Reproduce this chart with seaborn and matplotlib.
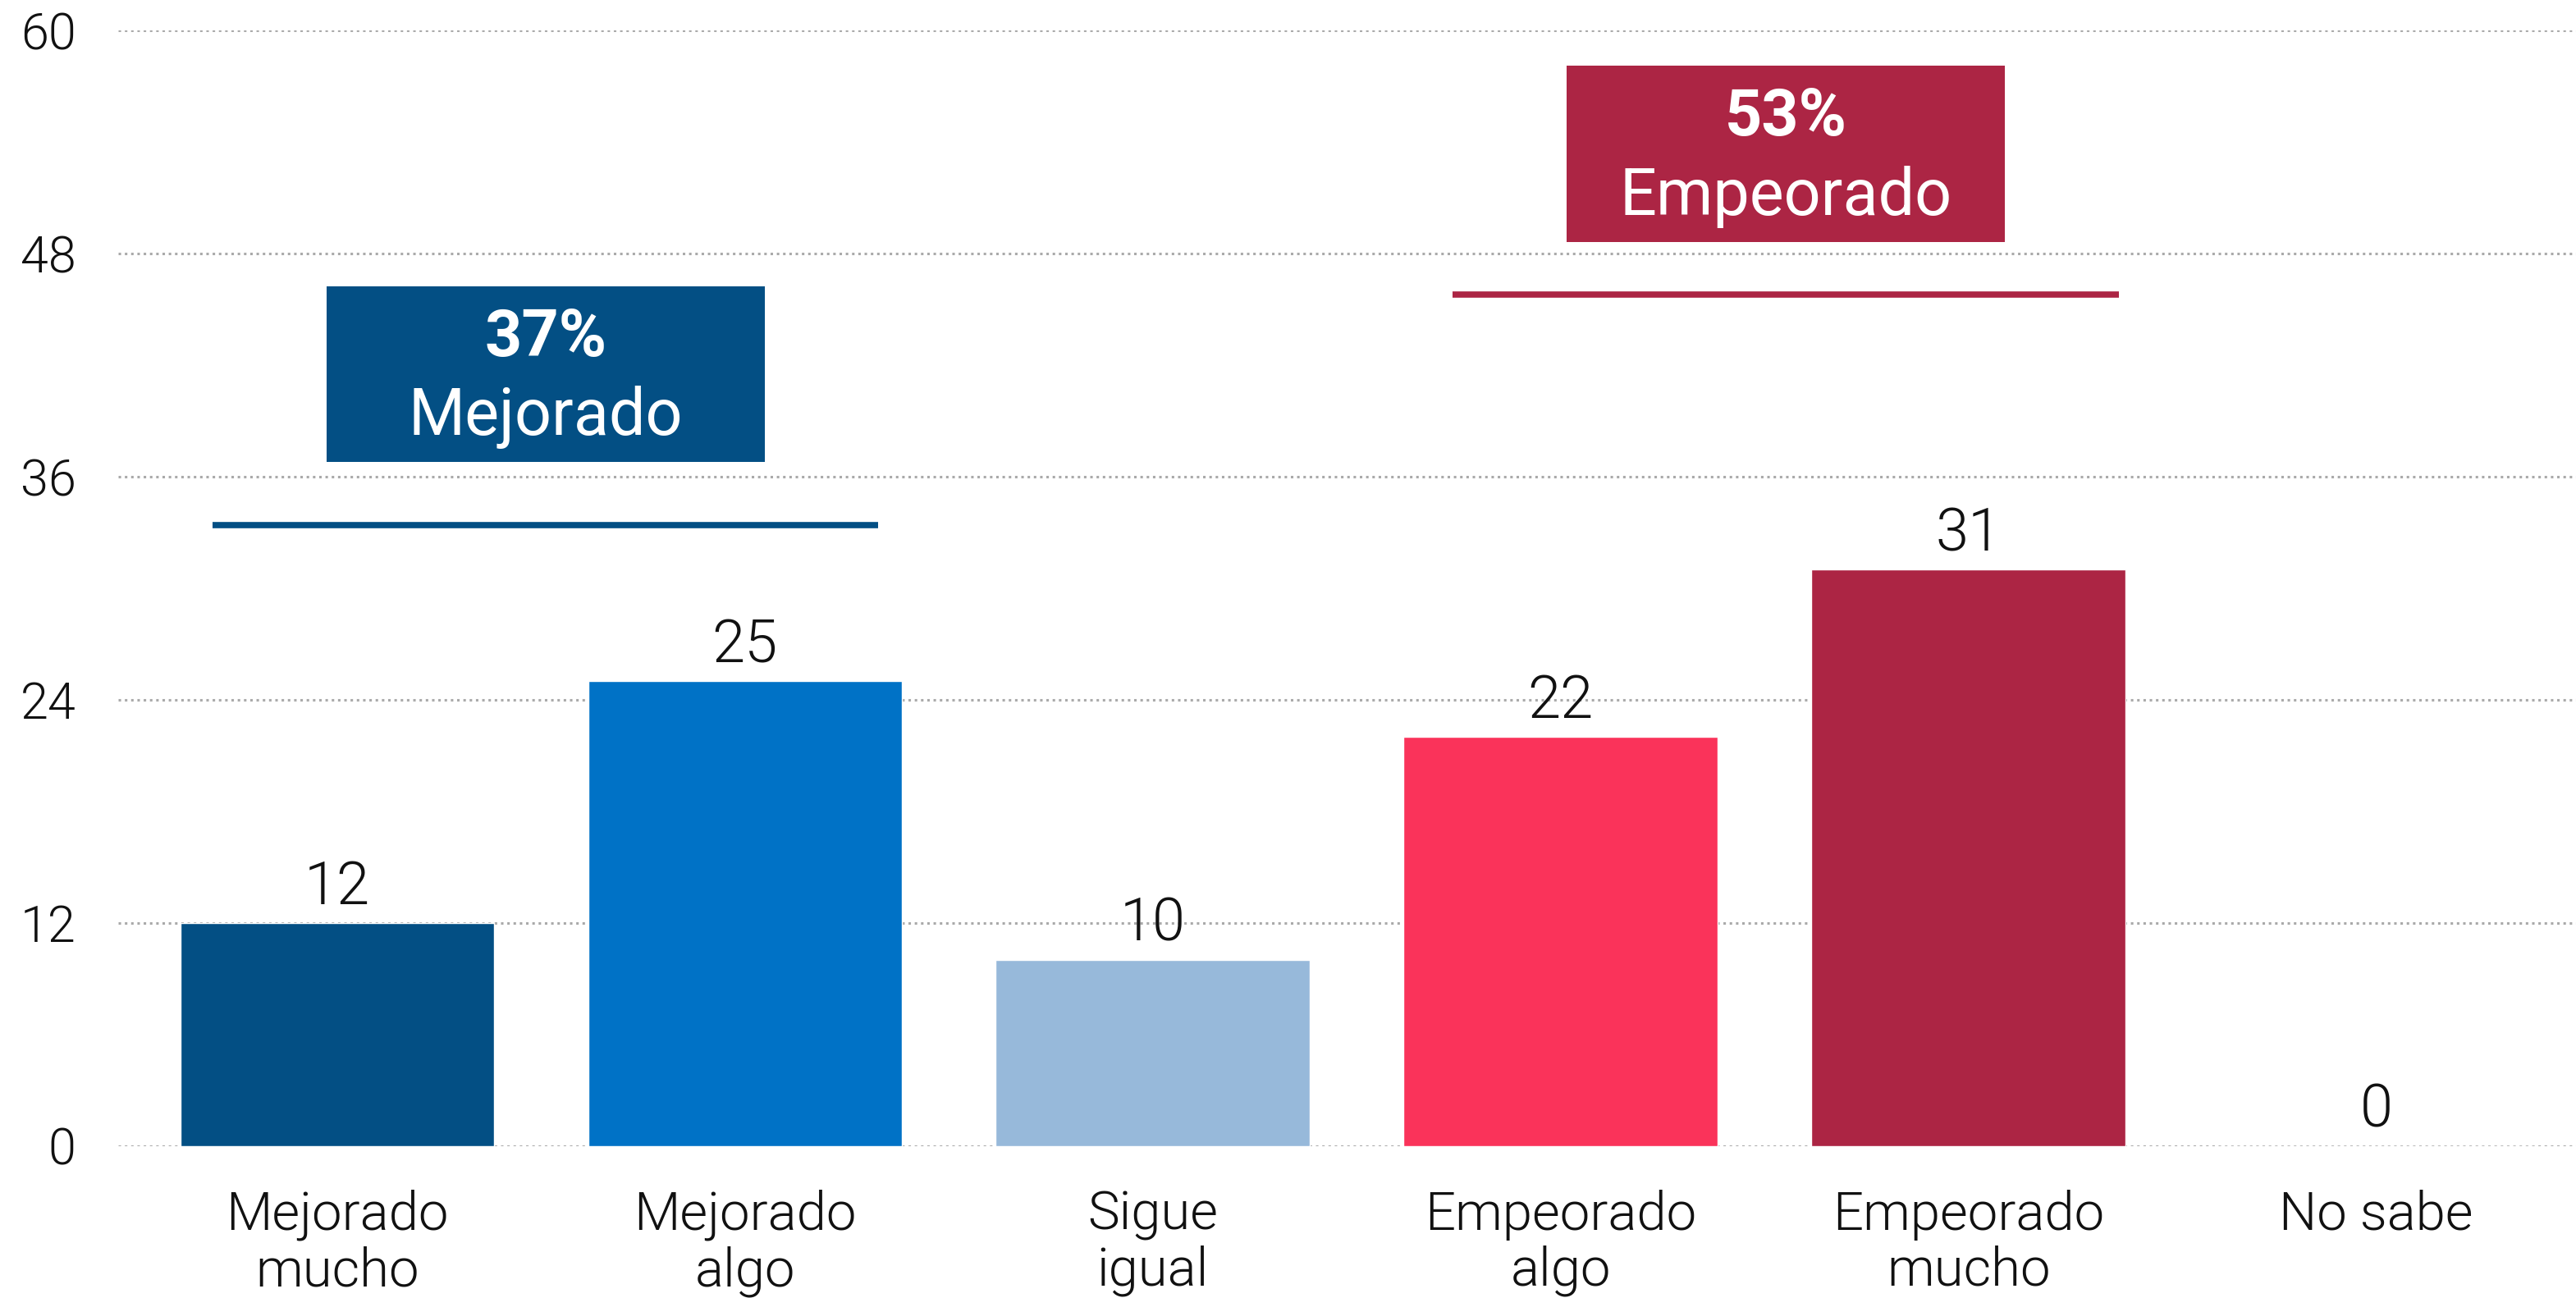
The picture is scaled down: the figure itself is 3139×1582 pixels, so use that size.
import pandas as pd
import seaborn as sns
import matplotlib.pyplot as plt
from matplotlib.patches import Rectangle

categories = ['Mejorado\nmucho', 'Mejorado\nalgo', 'Sigue\nigual',
              'Empeorado\nalgo', 'Empeorado\nmucho', 'No sabe']
values = [12, 25, 10, 22, 31, 0]
bar_colors = ['#034F84', '#0072C6', '#97B9DA', '#FA335A', '#AC2544', '#CCCCCC']

# summary groups drawn above the bars
group_labels = ['Mejorado', 'Empeorado']
group_pcts = ['37%', '53%']
group_colors = ['#034F84', '#AC2544']
group_span = [(-0.305, 1.327), (2.735, 4.37)]
group_line_y = [33.4, 45.8]
group_box_y = [36.8, 48.65]

sns.set_style('white')
plt.rcParams['font.family'] = ['Roboto', 'DejaVu Sans']
plt.rcParams['font.weight'] = 300

df = pd.DataFrame({'cat': categories, 'val': values})

fig = plt.figure(figsize=(31.39, 15.82), dpi=100)
ax = fig.add_axes([0.0459, 0.117, 0.9541, 0.8594])

sns.barplot(data=df, x='cat', y='val', hue='cat', palette=bar_colors,
            width=0.77, legend=False, saturation=1, ax=ax, zorder=3)

for cont in ax.containers:
    ax.bar_label(cont, fmt='%d', padding=6, fontsize=52, color='#111111')

ax.set_ylim(0, 60)
ax.set_xlim(-0.537, 5.49)
ax.set_yticks(range(0, 61, 12))
ax.yaxis.grid(True, linestyle=(0, (1, 1.5)), linewidth=2.2, color='#aaaaaa', zorder=0)
ax.xaxis.grid(False)
ax.set_axisbelow(True)
ax.tick_params(axis='y', length=0, pad=37, labelsize=44, labelcolor='#111111')
ax.tick_params(axis='x', length=0, pad=38, labelsize=47, labelcolor='#111111')
for lab in ax.get_xticklabels():
    lab.set_linespacing(1.12)
ax.set_xlabel('')
ax.set_ylabel('')
for s in ax.spines.values():
    s.set_visible(False)

for lbl, pct, (lo, hi), col, ly, by in zip(group_labels, group_pcts, group_span,
                                          group_colors, group_line_y, group_box_y):
    mid = (lo + hi) / 2
    ax.plot([lo, hi], [ly, ly], color=col, linewidth=5.5, solid_capstyle='butt',
            clip_on=False, zorder=4)
    ax.add_patch(Rectangle((mid - 0.537, by), 1.074, 9.45, facecolor=col,
                           edgecolor='none', zorder=4, clip_on=False))
    ax.text(mid, by + 5.7, pct, ha='center', va='baseline', fontsize=57,
            fontweight='bold', color='white', zorder=5)
    ax.text(mid, by + 1.45, lbl, ha='center', va='baseline', fontsize=57,
            fontweight='normal', color='white', zorder=5)

fig.savefig('out.png', dpi=100, facecolor='white')
